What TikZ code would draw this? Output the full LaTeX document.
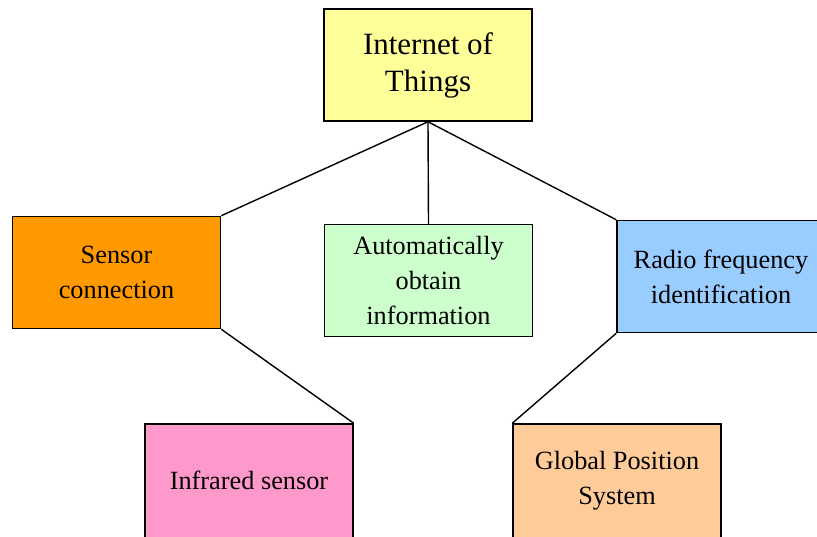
\documentclass[tikz,border=0pt]{standalone}
\usepackage{fontspec}
\setmainfont{Liberation Serif}
\usepackage{xcolor}
\usepackage{tikz}

\definecolor{iotyellow}{HTML}{FFFF99}
\definecolor{sensororange}{HTML}{FF9900}
\definecolor{autogreen}{HTML}{CCFFCC}
\definecolor{rfidblue}{HTML}{99CCFF}
\definecolor{infrapink}{HTML}{FF99CC}
\definecolor{gpspeach}{HTML}{FFCC99}

\tikzset{
    box/.style={draw=black, line width=1.5pt, minimum width=208pt, minimum height=112pt,
        align=center, inner sep=0pt, font=\fontsize{26.3}{35}\selectfont},
    lowbox/.style={box, minimum height=124pt},
    link/.style={line width=1.4pt}
}

\begin{document}
\begin{tikzpicture}[x=1pt, y=-1pt]
            \useasboundingbox (0, 0) rectangle (817, 536);

            \node[box, fill=iotyellow, font=\fontsize{31}{37}\selectfont] (iot) at (428, 65) {Internet of\\Things};

            \node[box, fill=sensororange] (sensor) at (116.5, 272.5) {Sensor\\connection};
            \node[box, fill=autogreen] (auto) at (428.5, 280.5) {Automatically\\obtain\\information};
            \node[box, fill=rfidblue] (rfid) at (721, 276.5) {Radio frequency\\identification};

            % bottom row runs off the page
            \node[lowbox, fill=infrapink, text depth=11pt] (infra) at (249, 486) {Infrared sensor};
            \node[lowbox, fill=gpspeach, text depth=16.7pt] (gps) at (617, 486) {Global Position\\System};

            \draw[link] (iot.south) -- (sensor.north east);
            \draw[link] (iot.south) -- (auto.north);
            \draw[link] (iot.south) -- (rfid.north west);

            \draw[link] (sensor.south east) -- (infra.north east);
            \draw[link] (rfid.south west) -- (gps.north west);
        \end{tikzpicture}
\end{document}
